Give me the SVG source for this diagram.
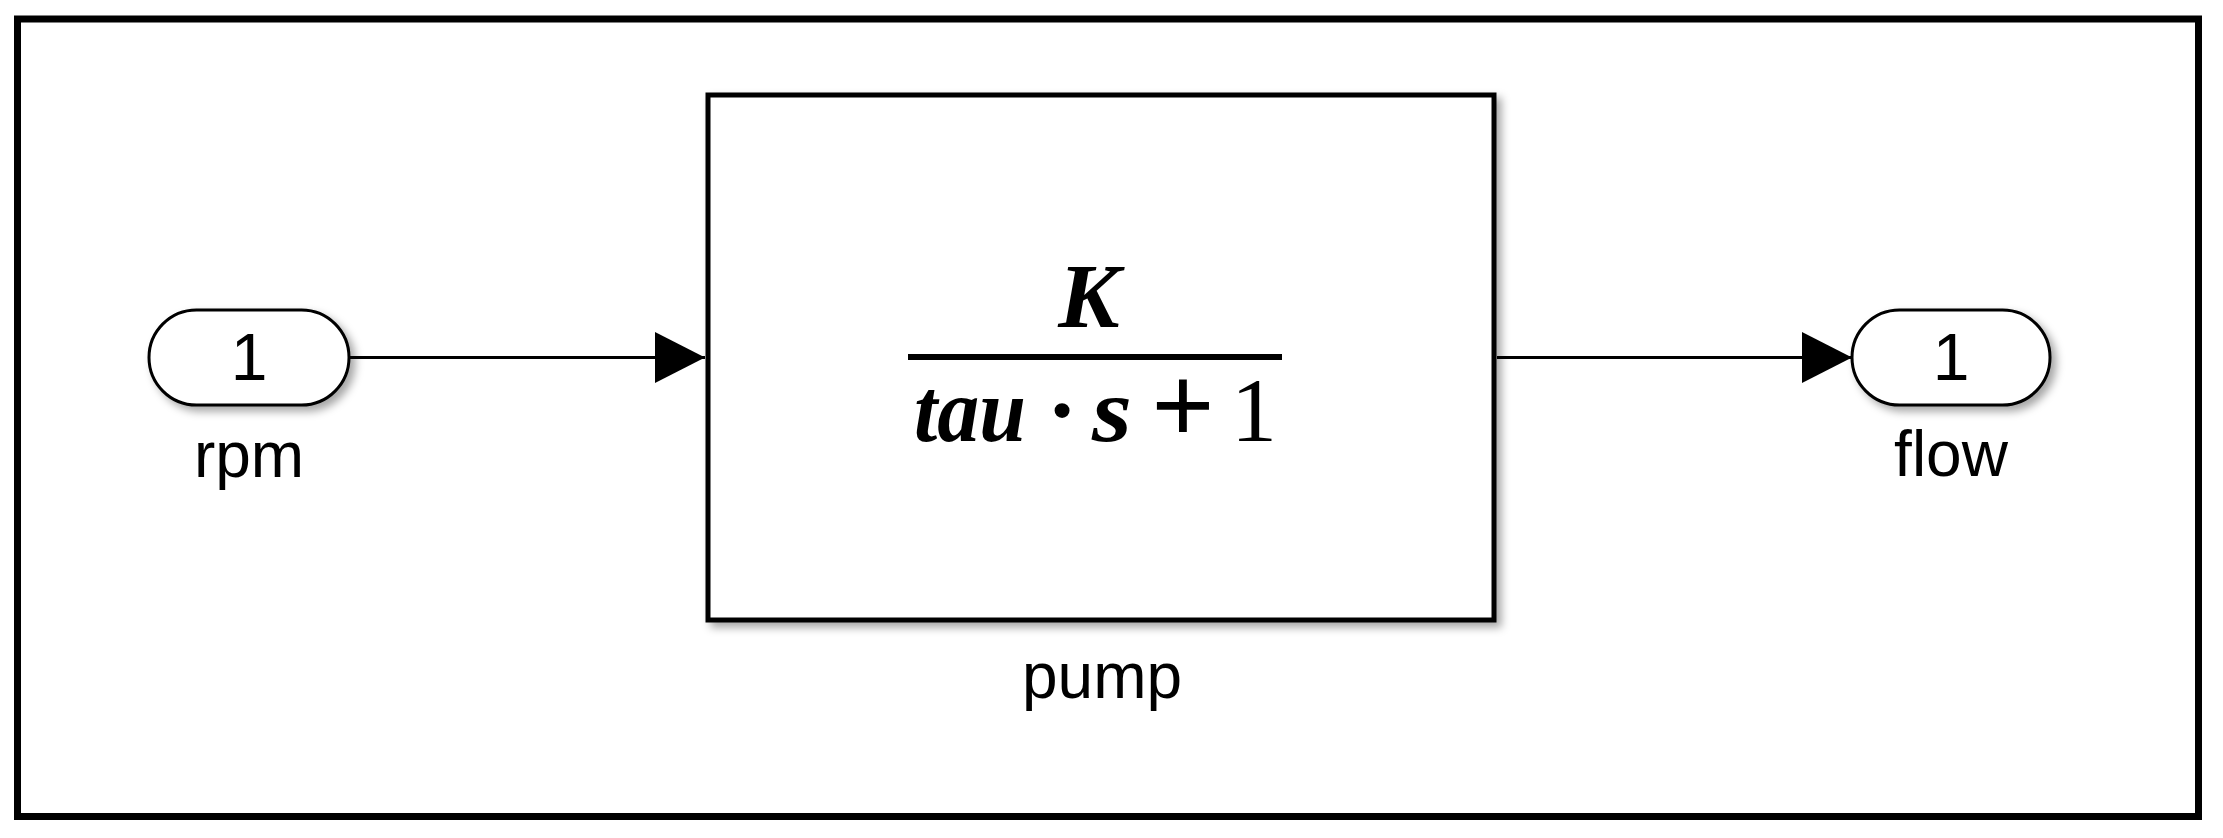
<svg xmlns="http://www.w3.org/2000/svg" width="2223" height="838" viewBox="0 0 2223 838">
  <defs>
    <filter id="shadow" x="-10%" y="-10%" width="130%" height="140%">
      <feDropShadow dx="5" dy="5" stdDeviation="4" flood-color="#000" flood-opacity="0.35"/>
    </filter>
    <marker id="arrow" viewBox="0 0 50 51" refX="50" refY="25.5" markerWidth="50" markerHeight="51" markerUnits="userSpaceOnUse" orient="auto">
      <path d="M0,0 L50,25.5 L0,51 Z" fill="#000"/>
    </marker>
  </defs>
  <style>
    .port { fill: #fff; stroke: #000; stroke-width: 3; filter: url(#shadow); }
    .block { fill: #fff; stroke: #000; stroke-width: 5; filter: url(#shadow); }
    .lbl { font-family: "Liberation Sans", Arial, sans-serif; font-size: 64px; fill: #000; text-anchor: middle; }
    .num { font-family: "Liberation Sans", Arial, sans-serif; font-size: 66px; fill: #000; text-anchor: middle; }
    .math { font-family: "Liberation Serif", "Times New Roman", serif; fill: #000; }
    .var { font-style: italic; font-weight: bold; }
    .wire { stroke: #000; stroke-width: 3; fill: none; marker-end: url(#arrow); }
  </style>
  <rect x="0" y="0" width="2223" height="838" fill="#fff"/>
  <rect id="frame" x="17.5" y="19" width="2181" height="797.5" fill="none" stroke="#000" stroke-width="7"/>

  <g id="connectors">
    <line class="wire" x1="350" y1="357.5" x2="705" y2="357.5"/>
    <line class="wire" x1="1497" y1="357.5" x2="1852" y2="357.5"/>
  </g>

  <g id="inport-rpm">
    <rect class="port" x="149" y="310" width="200" height="95" rx="47.5" ry="47.5"/>
    <text class="num" x="249" y="380">1</text>
    <text class="lbl" x="249" y="477">rpm</text>
  </g>

  <g id="block-pump">
    <rect class="block" x="708" y="95" width="786" height="525"/>
    <text class="math var" x="1089" y="327" font-size="92" text-anchor="middle">K</text>
    <line x1="908" y1="357" x2="1282" y2="357" stroke="#000" stroke-width="6"/>
    <text class="math var" x="914" y="441" font-size="90" textLength="112" lengthAdjust="spacingAndGlyphs">tau</text>
    <text class="math" x="1062" y="441" font-size="92" font-weight="bold" text-anchor="middle">·</text>
    <text class="math var" x="1092" y="441" font-size="90" textLength="40" lengthAdjust="spacingAndGlyphs">s</text>
    <text class="math" x="1183" y="443" font-size="112" font-weight="bold" text-anchor="middle">+</text>
    <text class="math" x="1254" y="441" font-size="92" text-anchor="middle">1</text>
    <text class="lbl" x="1102" y="698">pump</text>
  </g>

  <g id="outport-flow">
    <rect class="port" x="1852" y="310" width="198" height="95" rx="47.5" ry="47.5"/>
    <text class="num" x="1951" y="380">1</text>
    <text class="lbl" x="1951" y="476">flow</text>
  </g>
</svg>
